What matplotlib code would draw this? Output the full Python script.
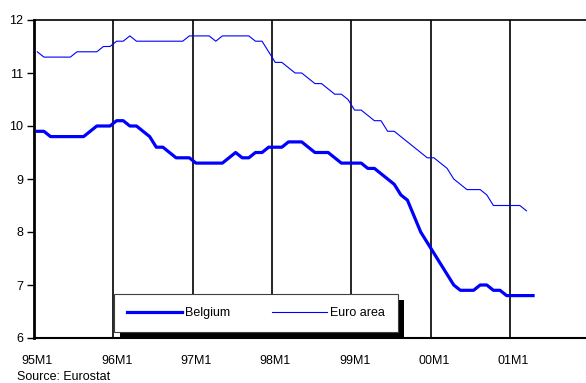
import numpy as np
import matplotlib
matplotlib.use("Agg")
import matplotlib.pyplot as plt
from matplotlib.patches import Rectangle
from matplotlib.transforms import IdentityTransform

plt.rcParams['font.family'] = ['Liberation Sans', 'DejaVu Sans']

# monthly unemployment rate (%), starting 95M1
belgium = [9.9, 9.9, 9.8, 9.8, 9.8, 9.8, 9.8, 9.8, 9.9, 10.0, 10.0, 10.0,
           10.1, 10.1, 10.0, 10.0, 9.9, 9.8, 9.6, 9.6, 9.5, 9.4, 9.4, 9.4,
           9.3, 9.3, 9.3, 9.3, 9.3, 9.4, 9.5, 9.4, 9.4, 9.5, 9.5, 9.6,
           9.6, 9.6, 9.7, 9.7, 9.7, 9.6, 9.5, 9.5, 9.5, 9.4, 9.3, 9.3,
           9.3, 9.3, 9.2, 9.2, 9.1, 9.0, 8.9, 8.7, 8.6, 8.3, 8.0, 7.8,
           7.6, 7.4, 7.2, 7.0, 6.9, 6.9, 6.9, 7.0, 7.0, 6.9, 6.9, 6.8,
           6.8, 6.8, 6.8, 6.8]
euro_area = [11.4, 11.3, 11.3, 11.3, 11.3, 11.3, 11.4, 11.4, 11.4, 11.4, 11.5, 11.5,
             11.6, 11.6, 11.7, 11.6, 11.6, 11.6, 11.6, 11.6, 11.6, 11.6, 11.6, 11.7,
             11.7, 11.7, 11.7, 11.6, 11.7, 11.7, 11.7, 11.7, 11.7, 11.6, 11.6, 11.4,
             11.2, 11.2, 11.1, 11.0, 11.0, 10.9, 10.8, 10.8, 10.7, 10.6, 10.6, 10.5,
             10.3, 10.3, 10.2, 10.1, 10.1, 9.9, 9.9, 9.8, 9.7, 9.6, 9.5, 9.4,
             9.4, 9.3, 9.2, 9.0, 8.9, 8.8, 8.8, 8.8, 8.7, 8.5, 8.5, 8.5,
             8.5, 8.5, 8.4]
year_labels = ['95M1', '96M1', '97M1', '98M1', '99M1', '00M1', '01M1']

fig = plt.figure(figsize=(5.86, 3.83), dpi=100)
ax = fig.add_axes([34 / 586, 45 / 383, 552 / 586, 318 / 383])

# each month sits in the middle of its category slot
x_bel = np.arange(len(belgium)) + 0.5
x_eur = np.arange(len(euro_area)) + 0.5

ax.plot(x_bel, belgium, color='#0000ff', lw=2.3, label='Belgium', zorder=3)
ax.plot(x_eur, euro_area, color='#0000ff', lw=0.8, label='Euro area', zorder=3)

# year separators
for k in range(1, 8):
    ax.axvline(12 * k, color='black', lw=1.2, zorder=1)

ax.set_xlim(0, 552 / 6.61)
ax.set_ylim(6, 12)
ax.set_yticks(range(6, 13))
ax.set_xticks([12 * i + 0.5 for i in range(len(year_labels))])
ax.set_xticklabels(year_labels)

ax.tick_params(axis='x', length=0, pad=12, labelsize=9)
ax.tick_params(axis='y', length=5, width=1, pad=3, labelsize=9)

ax.spines['right'].set_visible(False)
ax.spines['left'].set_linewidth(2)
ax.spines['bottom'].set_linewidth(1.5)
ax.spines['top'].set_linewidth(1.2)

leg = ax.legend(ncol=2, loc='lower left',
                bbox_to_anchor=((114 - 34) / 552, (338 - 332) / 318),
                borderaxespad=0, frameon=True, fancybox=False, framealpha=1,
                fontsize=9, handlelength=4.4, handletextpad=0.25,
                columnspacing=3.3, borderpad=1.05)
leg.get_frame().set_facecolor('white')
leg.get_frame().set_edgecolor('#404040')
leg.get_frame().set_linewidth(0.8)
leg.set_zorder(6)

# solid black drop shadow behind the legend box
fig.canvas.draw()
bb = leg.get_window_extent()
shadow = Rectangle((bb.x0 + 6, bb.y0 - 6), bb.width, bb.height,
                   transform=IdentityTransform(), facecolor='black',
                   edgecolor='none', zorder=5.5)
ax.add_artist(shadow)

fig.text(17 / 586, 0, 'Source: Eurostat', fontsize=9, va='bottom', ha='left')

fig.savefig('out.png', dpi=100)
